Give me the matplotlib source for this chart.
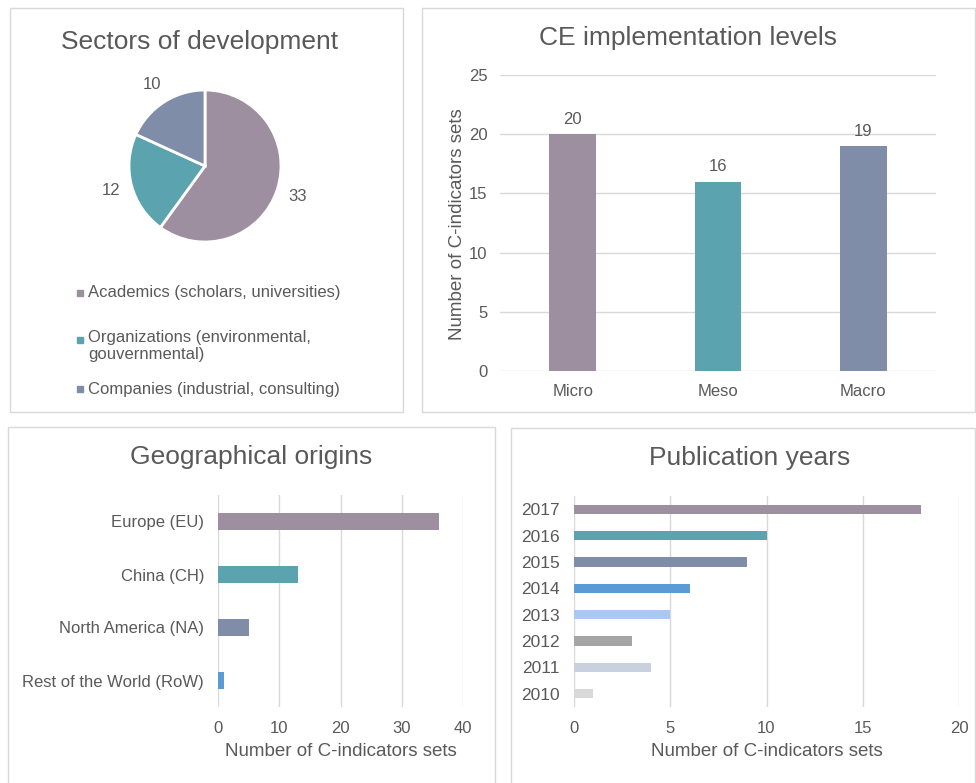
import matplotlib.pyplot as plt
from matplotlib.patches import Rectangle

plt.rcParams['font.family'] = ['Liberation Sans', 'DejaVu Sans']

W, H = 976, 783
TXT = '#595959'
GRID = '#D9D9D9'

# sectors of development (pie)
sectors = ['Academics (scholars, universities)',
           'Organizations (environmental,\ngouvernmental)',
           'Companies (industrial, consulting)']
sector_vals = [33, 12, 10]
sector_cols = ['#9E8FA0', '#5BA3AE', '#7F8DA8']

# CE implementation levels
levels = ['Micro', 'Meso', 'Macro']
level_vals = [20, 16, 19]
level_cols = ['#9E8FA0', '#5BA3AE', '#7F8DA8']

# geographical origins
regions = ['Europe (EU)', 'China (CH)', 'North America (NA)', 'Rest of the World (RoW)']
region_vals = [36, 13, 5, 1]
region_cols = ['#9E8FA0', '#5BA3AE', '#7F8DA8', '#5B9BD5']

# publication years
years = ['2017', '2016', '2015', '2014', '2013', '2012', '2011', '2010']
year_vals = [18, 10, 9, 6, 5, 3, 4, 1]
year_cols = ['#9E8FA0', '#5BA3AE', '#7F8DA8', '#5B9BD5', '#A9C8F5',
             '#A5A5A5', '#C9D1DE', '#D9D9D9']

TICK = 12
LAB = 13.5
TITLE = 19


def box(x0, y0, x1, y1):
    # pixel box (top-left origin) -> figure fraction rect
    return [x0 / W, 1 - y1 / H, (x1 - x0) / W, (y1 - y0) / H]


def fx(x):
    return x / W


def fy(y):
    return 1 - y / H


fig = plt.figure(figsize=(W / 100, H / 100), dpi=100)

# panel frames
for x0, y0, x1, y1 in [(10, 8, 403, 412), (422, 8, 975, 412),
                       (8, 427, 495, 790), (511, 428, 975, 790)]:
    fig.patches.append(Rectangle((fx(x0), fy(y1)), fx(x1 - x0), (y1 - y0) / H,
                                 transform=fig.transFigure, fill=False,
                                 edgecolor=GRID, linewidth=1))

# --- pie ---
ax1 = fig.add_axes(box(129, 90, 281, 242))
_, texts = ax1.pie(sector_vals, colors=sector_cols, startangle=90, counterclock=False,
                   labels=[str(v) for v in sector_vals], labeldistance=1.28,
                   wedgeprops=dict(edgecolor='white', linewidth=2),
                   textprops=dict(color=TXT, fontsize=TICK))
for t in texts:
    t.set_ha('center')
ax1.set_xlim(-1, 1)
ax1.set_ylim(-1, 1)
ax1.set_aspect('equal')
fig.text(fx(200), fy(42), 'Sectors of development', ha='center', va='center',
         fontsize=TITLE, color=TXT)

# legend, laid out by hand
leg_y = [293, 340, 389]
for lab, col, y in zip(sectors, sector_cols, leg_y):
    fig.patches.append(Rectangle((fx(77), fy(y + 3)), 6 / W, 6 / H,
                                 transform=fig.transFigure, color=col))
    if '\n' in lab:
        fig.text(fx(88), fy(y - 10), lab, ha='left', va='top', fontsize=TICK,
                 color=TXT, linespacing=1.2)
    else:
        fig.text(fx(88), fy(y), lab, ha='left', va='center', fontsize=TICK, color=TXT)

# --- vertical bars ---
ax2 = fig.add_axes(box(500, 75, 936, 371))
bars = ax2.bar(range(len(levels)), level_vals, width=0.32, color=level_cols)
for b, v in zip(bars, level_vals):
    ax2.text(b.get_x() + b.get_width() / 2, v + 0.6, str(v), ha='center',
             va='bottom', fontsize=TICK, color=TXT)
ax2.set_xlim(-0.5, 2.5)
ax2.set_ylim(0, 25)
ax2.set_yticks(range(0, 26, 5))
ax2.set_xticks(range(len(levels)))
ax2.set_xticklabels(levels)
ax2.grid(axis='y', color=GRID, linewidth=1)
ax2.set_axisbelow(True)
for s in ax2.spines.values():
    s.set_visible(False)
ax2.tick_params(length=0, labelsize=TICK, labelcolor=TXT, pad=9)
fig.text(fx(688), fy(38), 'CE implementation levels', ha='center', va='center',
         fontsize=TITLE, color=TXT)
fig.text(fx(458), fy(224), 'Number of C-indicators sets', ha='center', va='center',
         rotation=90, fontsize=LAB, color=TXT)

# --- geographical origins ---
ax3 = fig.add_axes(box(218, 495, 463, 707))
ax3.barh(range(len(regions)), region_vals, height=0.33, color=region_cols)
ax3.set_ylim(3.5, -0.5)
ax3.set_xlim(0, 40)
ax3.set_xticks(range(0, 41, 10))
ax3.set_yticks(range(len(regions)))
ax3.set_yticklabels(regions)
ax3.grid(axis='x', color=GRID, linewidth=1)
ax3.set_axisbelow(True)
for s in ax3.spines.values():
    s.set_visible(False)
ax3.tick_params(length=0, labelsize=TICK, labelcolor=TXT, pad=10)
ax3.set_xlabel('Number of C-indicators sets', fontsize=LAB, color=TXT, labelpad=5)
fig.text(fx(251), fy(457), 'Geographical origins', ha='center', va='center',
         fontsize=TITLE, color=TXT)

# --- publication years ---
ax4 = fig.add_axes(box(574, 496, 959, 707))
ax4.barh(range(len(years)), year_vals, height=0.35, color=year_cols)
ax4.set_ylim(7.5, -0.5)
ax4.set_xlim(0, 20)
ax4.set_xticks(range(0, 21, 5))
ax4.set_yticks(range(len(years)))
ax4.set_yticklabels(years)
ax4.grid(axis='x', color=GRID, linewidth=1)
ax4.set_axisbelow(True)
for s in ax4.spines.values():
    s.set_visible(False)
ax4.tick_params(axis='x', length=0, labelsize=TICK, labelcolor=TXT, pad=10)
ax4.tick_params(axis='y', length=0, labelsize=12.5, labelcolor=TXT, pad=10)
ax4.set_xlabel('Number of C-indicators sets', fontsize=LAB, color=TXT, labelpad=5)
fig.text(fx(750), fy(458), 'Publication years', ha='center', va='center',
         fontsize=TITLE, color=TXT)

fig.savefig('out.png', dpi=100)
